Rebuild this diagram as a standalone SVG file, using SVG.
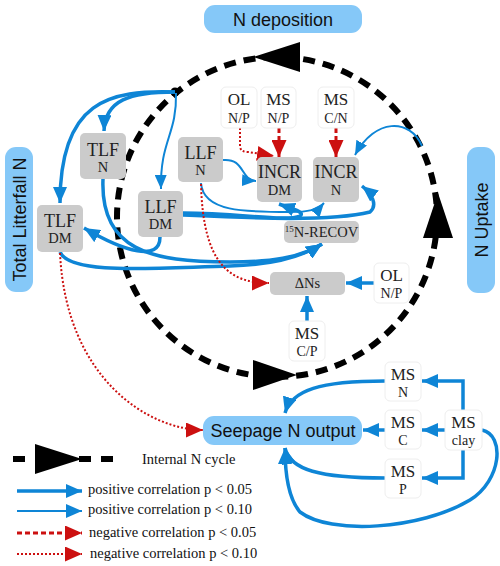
<svg xmlns="http://www.w3.org/2000/svg" width="500" height="566" viewBox="0 0 500 566">
<defs>
<style>
.bb{fill:#85c8f8}
.bt{font-family:"Liberation Sans",Arial,sans-serif;font-size:18px;fill:#111;text-anchor:middle}
.g{fill:#cbcbcb}
.w{fill:#fff;stroke:#eeeeee;stroke-width:1}
.t1{font-family:"Liberation Serif","Times New Roman",serif;font-size:18px;fill:#222;text-anchor:middle}
.t2{font-family:"Liberation Serif","Times New Roman",serif;font-size:14.5px;fill:#222;text-anchor:middle}
.t3{font-family:"Liberation Serif","Times New Roman",serif;font-size:17px;fill:#222;text-anchor:middle}
.t4{font-family:"Liberation Serif","Times New Roman",serif;font-size:14px;fill:#222;text-anchor:middle}
.lg{font-family:"Liberation Serif","Times New Roman",serif;font-size:14.5px;fill:#111}
.pk{fill:none;stroke:#0e85d6;stroke-width:3.5}
.pn{fill:none;stroke:#0e85d6;stroke-width:2}
.rk{fill:none;stroke:#cc1010;stroke-width:3;stroke-dasharray:5 3}
.rn{fill:none;stroke:#cc1010;stroke-width:2;stroke-dasharray:2 2}
.cyc{fill:none;stroke:#000;stroke-width:6;stroke-dasharray:12 8}
</style>
<marker id="ab" viewBox="0 0 16 14" refX="16" refY="7" markerWidth="16" markerHeight="14" markerUnits="userSpaceOnUse" orient="auto"><path d="M0,0 L16,7 L0,14 z" fill="#0e85d6"/></marker>
<marker id="an" viewBox="0 0 14 12" refX="14" refY="6" markerWidth="14" markerHeight="12" markerUnits="userSpaceOnUse" orient="auto"><path d="M0,0 L14,6 L0,12 z" fill="#0e85d6"/></marker>
<marker id="ar" viewBox="0 0 17 15" refX="17" refY="7.5" markerWidth="17" markerHeight="15" markerUnits="userSpaceOnUse" orient="auto"><path d="M0,0 L17,7.5 L0,15 z" fill="#cc1010"/></marker>
</defs>

<g id="cycle">
<circle class="cyc" cx="277" cy="217" r="160"/>
<polygon points="253,57 300,42 300,72" fill="#000"/>
<polygon points="438,193 423,238 453,238" fill="#000"/>
<polygon points="297,375 253,360 253,390" fill="#000"/>
<circle cx="175" cy="92" r="4.5" fill="#000"/>
</g>

<g id="connectors">
<path class="pk" d="M175,92 C110,90 60,100 60,203" marker-end="url(#ab)"/>
<path class="pk" d="M175,92 C130,92 105,100 104,131" marker-end="url(#ab)"/>
<path class="pn" d="M176,93 C177,135 160,140 161,189" marker-end="url(#an)"/>
<path class="pn" d="M223,160 C245,158 240,180 256,181" marker-end="url(#an)"/>
<path class="pk" d="M160,237 C160,262 125,252 84,228" marker-end="url(#ab)"/>
<path class="pk" d="M103,179 C100,250 150,262 230,262 C270,262 300,258 322,244" marker-end="url(#ab)"/>
<path class="pk" d="M60,252 C70,275 150,268 230,266 C270,265 300,258 322,244" marker-end="url(#ab)"/>
<path class="pn" d="M201,183 C203,212 245,212 290,212 C308,212 318,210 324,203" marker-end="url(#an)"/>
<path class="pk" d="M183,213 C240,213 285,222 300,216 C306,212 290,208 279,204" marker-end="url(#ab)"/>
<path class="pk" d="M183,215 C250,218 330,222 370,212 C378,205 372,194 362,186" marker-end="url(#ab)"/>
<path class="pn" d="M422,146 C410,118 375,118 355,155" marker-end="url(#an)"/>

<path class="rn" d="M240,128 L240,146 Q240,152 248,152 L274,156" marker-end="url(#ar)"/>
<path class="rk" d="M279,128 L279,157" marker-end="url(#ar)"/>
<path class="rk" d="M336,128 L336,157" marker-end="url(#ar)"/>
<path class="rn" d="M201,184 C203,265 230,283 269,283" marker-end="url(#ar)"/>
<path class="rn" d="M60,253 C66,380 150,430 203,430" marker-end="url(#ar)"/>

<path class="pk" d="M374,283 L346,283" marker-end="url(#ab)"/>
<path class="pk" d="M307,321 L307,296" marker-end="url(#ab)"/>
<path class="pk" d="M385,381 C320,381 292,390 285,413" marker-end="url(#ab)"/>
<path class="pk" d="M385,430 L363,430" marker-end="url(#ab)"/>
<path class="pk" d="M385,478 C320,478 290,470 285,448" marker-end="url(#ab)"/>
<path class="pk" d="M463,410 L463,381 L422,381" marker-end="url(#ab)"/>
<path class="pk" d="M445,430 L422,430" marker-end="url(#ab)"/>
<path class="pk" d="M463,450 L463,478 L422,478" marker-end="url(#ab)"/>
<path class="pk" d="M482,430 C505,435 502,480 470,500 C420,530 330,535 300,512 C288,498 285,470 285,448" marker-end="url(#ab)"/>
</g>

<g id="n-deposition"><rect class="bb" x="204" y="5" width="158" height="28" rx="11"/><text class="bt" x="283" y="26">N deposition</text></g>
<g id="total-litterfall"><rect class="bb" x="5" y="147" width="28" height="145" rx="11"/><text class="bt" transform="translate(25.5,219.5) rotate(-90)">Total Litterfall N</text></g>
<g id="n-uptake"><rect class="bb" x="467" y="147" width="28" height="146" rx="11"/><text class="bt" transform="translate(487.5,220) rotate(-90)">N Uptake</text></g>
<g id="seepage"><rect class="bb" x="203" y="416" width="159" height="29" rx="11"/><text class="bt" x="283" y="437">Seepage N output</text></g>

<g id="tlf-n"><rect class="g" x="80" y="133" width="46" height="46" rx="5"/><text class="t1" x="103" y="156">TLF</text><text class="t2" x="103" y="172">N</text></g>
<g id="llf-n"><rect class="g" x="178" y="137" width="45" height="45" rx="5"/><text class="t1" x="200.5" y="159">LLF</text><text class="t2" x="200.5" y="175">N</text></g>
<g id="llf-dm"><rect class="g" x="138" y="191" width="45" height="46" rx="5"/><text class="t1" x="160.5" y="213">LLF</text><text class="t2" x="160.5" y="229">DM</text></g>
<g id="tlf-dm"><rect class="g" x="37" y="205" width="46" height="47" rx="5"/><text class="t1" x="60" y="227">TLF</text><text class="t2" x="60" y="243">DM</text></g>
<g id="incr-dm"><rect class="g" x="257" y="157" width="45" height="45" rx="5"/><text class="t1" x="279.5" y="178">INCR</text><text class="t2" x="279.5" y="195">DM</text></g>
<g id="incr-n"><rect class="g" x="313" y="157" width="46" height="45" rx="5"/><text class="t1" x="336" y="178">INCR</text><text class="t2" x="336" y="195">N</text></g>
<g id="n15-recov"><rect class="g" x="284" y="221" width="75" height="22" rx="5"/><text class="t2" x="321.5" y="237"><tspan font-size="9" dy="-5">15</tspan><tspan dy="5">N-RECOV</tspan></text></g>
<g id="delta-ns"><rect class="g" x="270" y="272" width="75" height="23" rx="5"/><text class="t2" x="307.5" y="288">ΔNs</text></g>

<g id="ol-np-top"><rect class="w" x="221" y="87" width="36" height="41" rx="5"/><text class="t3" x="239" y="105">OL</text><text class="t4" x="239" y="122.5">N/P</text></g>
<g id="ms-np"><rect class="w" x="261" y="87" width="35" height="41" rx="5"/><text class="t3" x="278.5" y="105">MS</text><text class="t4" x="278.5" y="122.5">N/P</text></g>
<g id="ms-cn"><rect class="w" x="318" y="87" width="36" height="41" rx="5"/><text class="t3" x="336" y="105">MS</text><text class="t4" x="336" y="122.5">C/N</text></g>
<g id="ol-np-right"><rect class="w" x="374" y="263" width="35" height="40" rx="5"/><text class="t3" x="391.5" y="281">OL</text><text class="t4" x="391.5" y="298">N/P</text></g>
<g id="ms-cp"><rect class="w" x="289" y="321" width="36" height="40" rx="5"/><text class="t3" x="307" y="339">MS</text><text class="t4" x="307" y="356">C/P</text></g>
<g id="ms-n"><rect class="w" x="385" y="362" width="36" height="39" rx="5"/><text class="t3" x="403" y="379.5">MS</text><text class="t4" x="403" y="396.5">N</text></g>
<g id="ms-c"><rect class="w" x="385" y="410" width="36" height="39" rx="5"/><text class="t3" x="403" y="427.5">MS</text><text class="t4" x="403" y="444.5">C</text></g>
<g id="ms-p"><rect class="w" x="385" y="459" width="36" height="39" rx="5"/><text class="t3" x="403" y="476.5">MS</text><text class="t4" x="403" y="493.5">P</text></g>
<g id="ms-clay"><rect class="w" x="445" y="410" width="37" height="40" rx="5"/><text class="t3" x="463.5" y="428">MS</text><text class="t4" x="463.5" y="445">clay</text></g>

<g id="legend">
<line x1="13" y1="459" x2="122" y2="459" stroke="#000" stroke-width="6" stroke-dasharray="12 10"/>
<polygon points="82,459 35,444 35,474" fill="#000"/>
<text class="lg" x="142" y="464">Internal N cycle</text>
<path class="pk" d="M17,491 L82,491" marker-end="url(#ab)"/>
<text class="lg" x="88" y="494">positive correlation p &lt; 0.05</text>
<path class="pn" d="M17,511 L82,511" marker-end="url(#ab)"/>
<text class="lg" x="88" y="514">positive correlation p &lt; 0.10</text>
<path class="rk" d="M17,533 L82,533" marker-end="url(#ar)"/>
<text class="lg" x="89" y="537">negative correlation p &lt; 0.05</text>
<path class="rn" d="M17,554 L82,554" marker-end="url(#ar)"/>
<text class="lg" x="90" y="558">negative correlation p &lt; 0.10</text>
</g>
</svg>
